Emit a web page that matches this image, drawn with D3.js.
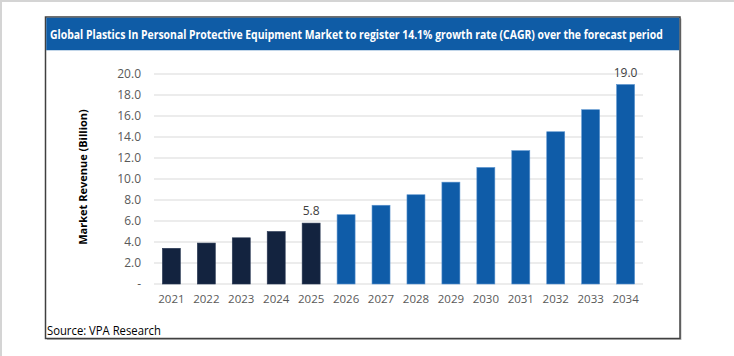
<!DOCTYPE html>
<html><head><meta charset="utf-8">
<script src="https://cdn.jsdelivr.net/npm/d3@7"></script>
<style>html,body{margin:0;padding:0;background:#fff;}svg{display:block;}</style>
</head><body>
<svg id="c" width="734" height="356"></svg>
<script>
const years = ["2021","2022","2023","2024","2025","2026","2027","2028","2029","2030","2031","2032","2033","2034"];
const revenue = [3.4, 3.9, 4.4, 5.0, 5.8, 6.6, 7.5, 8.5, 9.7, 11.1, 12.7, 14.5, 16.6, 19.0];
const historicalYears = ["2021","2022","2023","2024","2025"];
const labeledYears = ["2025","2034"];
const yTicks = [0, 2, 4, 6, 8, 10, 12, 14, 16, 18, 20];
const titleText = "Global Plastics In Personal Protective Equipment Market to register 14.1% growth rate (CAGR) over the forecast period";
const yTitle = "Market Revenue (Billion)";
const sourceText = "Source: VPA Research";

const svg = d3.select("#c");
const font = "'Open Sans', 'Noto Sans', sans-serif";

// fit a text horizontally to a target width by scaling its group
function fitText(parent, x0, yb, txt, width, attrs) {
  const g = parent.append("g");
  const t = g.append("text").attr("x",0).attr("y",0).text(txt);
  Object.entries(attrs).forEach(([k,v]) => t.attr(k,v));
  const w = t.node().getComputedTextLength();
  g.attr("transform", `translate(${x0},${yb}) scale(${width / w},1)`);
  return g;
}

// outer page edges
svg.append("rect").attr("x",0).attr("y",0).attr("width",734).attr("height",2).attr("fill","#d4d4d4");
svg.append("rect").attr("x",0).attr("y",0).attr("width",2).attr("height",356).attr("fill","#d4d4d4");

// box shadow + box
svg.append("rect").attr("x",47).attr("y",18.5).attr("width",634.5).attr("height",321.5).attr("fill","#bfbfbf");
svg.append("rect").attr("x",45.5).attr("y",17).attr("width",634.5).attr("height",321.5)
  .attr("fill","#fff").attr("stroke","#404040").attr("stroke-width",1.5);

// title band
svg.append("rect").attr("x",46.25).attr("y",17.75).attr("width",633).attr("height",32.5).attr("fill","#0f5ca6");
fitText(svg, 50, 38.5, titleText, 613,
  {"fill":"#fff","font-family":font,"font-weight":"bold","font-size":12.5});

const x = d3.scaleBand().domain(years).range([154, 643]).paddingInner(0.485).paddingOuter(0.24);
const y = d3.scaleLinear().domain([0, 20]).range([284, 74]);

// gridlines
svg.append("g").selectAll("line").data(yTicks).join("line")
  .attr("x1",154).attr("x2",643).attr("y1",d=>y(d)).attr("y2",d=>y(d))
  .attr("stroke","#d9d9d9").attr("stroke-width",1.2);

// y axis
const yAxis = d3.axisLeft(y).tickValues(yTicks).tickSize(0).tickPadding(0)
  .tickFormat(d => d === 0 ? "-" : d3.format(".1f")(d));
const gy = svg.append("g").attr("transform","translate(141,0)").call(yAxis);
gy.select(".domain").remove();
gy.selectAll("text").attr("fill","#595959").attr("font-family",font).attr("font-size",12);

// x axis
const xAxis = d3.axisBottom(x).tickSize(0).tickPadding(0);
const gx = svg.append("g").attr("transform","translate(0,295)").call(xAxis);
gx.select(".domain").remove();
gx.selectAll("text").attr("fill","#595959").attr("font-family",font).attr("font-size",11.5).attr("dy","0.71em");

// bars
svg.append("g").selectAll("rect").data(years).join("rect")
  .attr("x",(d)=>x(d)).attr("width",x.bandwidth())
  .attr("y",(d,i)=>y(revenue[i])).attr("height",(d,i)=>y(0)-y(revenue[i]))
  .attr("fill",d=> historicalYears.includes(d) ? "#13233f" : "#0f5ca8")
  .attr("stroke",d=> historicalYears.includes(d) ? "#2b3a55" : "#5a93cf").attr("stroke-width",0.6);

// data labels
svg.append("g").selectAll("text").data(years.filter(d=>labeledYears.includes(d))).join("text")
  .attr("x",d=>x(d)+x.bandwidth()/2).attr("y",d=>y(revenue[years.indexOf(d)]) - 8)
  .attr("text-anchor","middle").attr("fill","#404040").attr("font-family",font).attr("font-size",12)
  .text(d=>revenue[years.indexOf(d)].toFixed(1));

// y title
svg.append("text").attr("transform","translate(87,177) rotate(-90)").attr("text-anchor","middle")
  .attr("font-family",font).attr("font-weight","bold").attr("font-size",11).attr("fill","#000")
  .text(yTitle);

// source
fitText(svg, 47, 335, sourceText, 114,
  {"fill":"#000","font-family":font,"font-size":12.5});
</script>
</body></html>
